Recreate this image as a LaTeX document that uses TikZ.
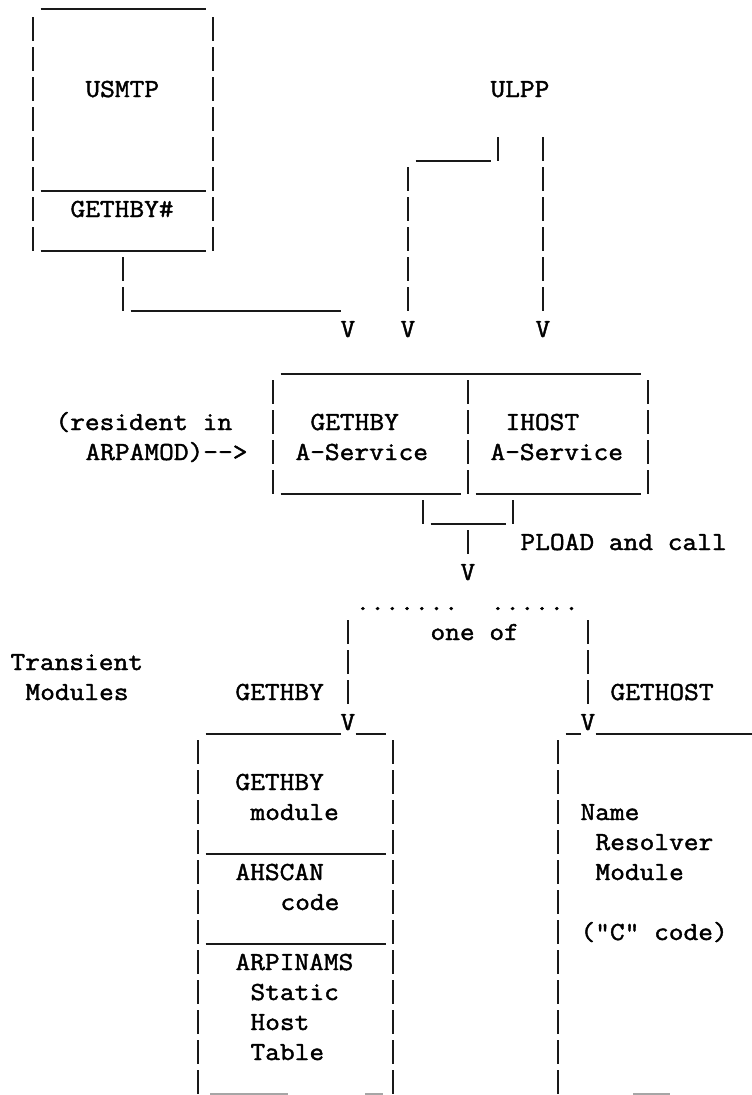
\documentclass[tikz,border=0pt]{standalone}
\usepackage{fontspec}
% serif typewriter face, widened to a 15pt pitch; 30pt line spacing
\setmonofont{Latin Modern Mono}[FakeStretch=1.1, FakeBold=1.6]
\tikzset{
  tt/.style={inner sep=0pt, outer sep=0pt, anchor=base west,
             font=\ttfamily\fontsize{26}{30}\selectfont},
  rule/.style={line width=2.1pt, color=black!90},
  typed/.style={line width=2.4pt, color=black!90, dash pattern=on 24pt off 6pt},
  faint/.style={line width=2.1pt, color=black!35}
}
% grid helpers: column c has its centre at 3+15c, row r at 30r+offset
\newcommand\vrun[4]{\draw[typed] ({3+15*#1},{30*#2+#4-12}) -- ({3+15*#1},{30*#3+#4+12});}
\newcommand\hrun[4]{\draw[rule] ({15*#1-4.5},{30*#3+#4+12}) -- ({15*#2+10.5},{30*#3+#4+12});}
\newcommand\ttext[5]{\node[tt] (#1) at ({15*#2-4.5},{30*#3+#4+8}) {#5};}
\begin{document}
\begin{tikzpicture}[x=1pt,y=-1pt]
\fill[white] (0,0) rectangle (752,1095);
\useasboundingbox (0,0) rectangle (752,1095);

% ---------------- USMTP ----------------
\draw[rule] (40.5,9) -- (205.5,9);
\vrun{2}{1}{8}{-1}
\vrun{14}{1}{8}{-1}
\ttext{usmtp}{6}{3}{-1}{USMTP}
\hrun{3}{13}{6}{-1}
\ttext{gethbynum}{5}{7}{-1}{GETHBY\#}
\hrun{3}{13}{8}{-1}
% call from USMTP
\vrun{8}{9}{10}{-1}
\hrun{9}{22}{10}{-1}
\ttext{v1}{23}{11}{-1}{V}

% ---------------- ULPP ----------------
\ttext{ulpp}{33}{3}{-1}{ULPP}
\vrun{33}{5}{5}{-1}
\hrun{28}{32}{5}{-1}
\vrun{27}{6}{10}{-1}
\vrun{36}{5}{10}{-1}
\ttext{v2}{27}{11}{-1}{V}
\ttext{v3}{36}{11}{-1}{V}

% ---------------- A-Service box ----------------
\hrun{19}{42}{12}{2}
\vrun{18}{13}{16}{2}
\vrun{31}{13}{16}{2}
\vrun{43}{13}{16}{2}
\ttext{res1}{4}{14}{2}{(resident in}
\ttext{res2}{6}{15}{2}{ARPAMOD)-->}
\ttext{gas1}{21}{14}{2}{GETHBY}
\ttext{gas2}{20}{15}{2}{A-Service}
\ttext{ias1}{34}{14}{2}{IHOST}
\ttext{ias2}{33}{15}{2}{A-Service}
\hrun{19}{30}{16}{2}
\hrun{32}{42}{16}{2}

% PLOAD and call
\vrun{28}{17}{17}{2}
\vrun{34}{17}{17}{2}
\hrun{29}{33}{17}{2}
\vrun{31}{18}{18}{2}
\ttext{pload}{35}{18}{2}{PLOAD and call}
\ttext{v4}{31}{19}{2}{V}

% one of
\ttext{dotsl}{24}{20}{2}{.......}
\ttext{dotsr}{33}{20}{2}{......}
\ttext{oneof}{29}{21}{2}{one of}
\vrun{23}{21}{23}{2}
\vrun{39}{21}{23}{2}
\ttext{trans1}{1}{22}{2}{Transient}
\ttext{trans2}{2}{23}{2}{Modules}
\ttext{lbl1}{16}{23}{2}{GETHBY}
\ttext{lbl2}{41}{23}{2}{GETHOST}
\ttext{v5}{23}{24}{2}{V}
\ttext{v6}{39}{24}{2}{V}

% ---------------- GETHBY module ----------------
\hrun{14}{22}{24}{2}
\hrun{24}{25}{24}{2}
\vrun{13}{25}{36}{2}
\vrun{26}{25}{36}{2}
\ttext{gm1}{16}{26}{2}{GETHBY}
\ttext{gm2}{17}{27}{2}{module}
\hrun{14}{25}{28}{2}
\ttext{ah1}{16}{29}{2}{AHSCAN}
\ttext{ah2}{19}{30}{2}{code}
\hrun{14}{25}{31}{2}
\ttext{ht1}{16}{32}{2}{ARPINAMS}
\ttext{ht2}{17}{33}{2}{Static}
\ttext{ht3}{17}{34}{2}{Host}
\ttext{ht4}{17}{35}{2}{Table}
\draw[faint] (210,1094) -- (288,1094);
\draw[faint] (365,1094) -- (383,1094);

% ---------------- Name Resolver module ----------------
\hrun{38}{38}{24}{2}
\draw[rule] (595.5,734) -- (752,734);
\vrun{37}{25}{36}{2}
\ttext{nr1}{39}{27}{2}{Name}
\ttext{nr2}{40}{28}{2}{Resolver}
\ttext{nr3}{40}{29}{2}{Module}
\ttext{nr4}{39}{31}{2}{("C" code)}
\draw[faint] (633,1094) -- (670,1094);
\end{tikzpicture}
\end{document}
